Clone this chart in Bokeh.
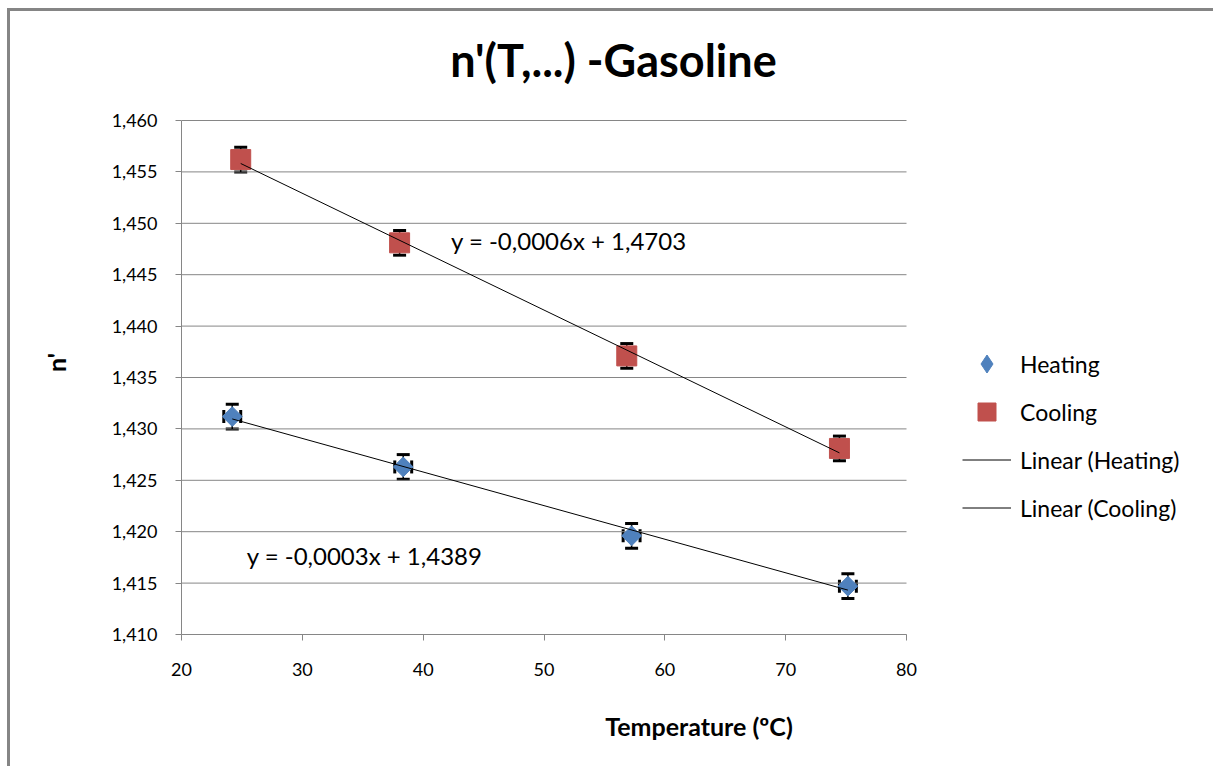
from bokeh.plotting import figure
from bokeh.models import (ColumnDataSource, Whisker, TeeHead, Legend, LegendItem,
                          FixedTicker, CustomJSTickFormatter, Label, Range1d)
from bokeh.embed import file_html
from bokeh.resources import INLINE
import numpy as np

# Refractive index of gasoline vs temperature
heat_t = [24.2, 38.35, 57.25, 75.15]
heat_n = [1.4312, 1.4263, 1.4196, 1.4147]
cool_t = [24.9, 38.05, 56.85, 74.45]
cool_n = [1.4562, 1.4481, 1.4371, 1.4281]
n_err = 0.0012
t_err = 0.7

x_ticks = [20, 30, 40, 50, 60, 70, 80]
y_ticks = [1.410, 1.415, 1.420, 1.425, 1.430, 1.435, 1.440, 1.445, 1.450, 1.455, 1.460]

title = "n'(T,...) -Gasoline"
eq_heat = "y = -0,0003x + 1,4389"
eq_cool = "y = -0,0006x + 1,4703"

FONT = "Lato"
GRID = "#868686"
BLUE = "#4F81BD"
RED = "#C0504D"

# canvas geometry (px): the axes occupy 725 x 514 px; the frame is widened to the
# right edge and raised to the top so the legend and heading can sit inside it
W, H = 1206, 758
LEFT = 171
AX_TOP, AX_BOTTOM = 109, 623
AX_W, AX_H = 725, AX_BOTTOM - AX_TOP
x0, x1 = x_ticks[0], x_ticks[-1]
y0, y1 = y_ticks[0], y_ticks[-1]
x_end = x0 + (x1 - x0) * (W - LEFT) / AX_W
y_end = y0 + (y1 - y0) * AX_BOTTOM / AX_H


def px_to_data(cx, cy):
    return (x0 + (cx - LEFT) * (x1 - x0) / AX_W,
            y0 + (AX_BOTTOM - cy) * (y1 - y0) / AX_H)


p = figure(width=W, height=H, output_backend="svg", toolbar_location=None,
           x_range=Range1d(x0, x_end), y_range=Range1d(y0, y_end),
           min_border_left=LEFT, min_border_right=0, min_border_top=0,
           min_border_bottom=H - AX_BOTTOM,
           styles={"margin-left": "7px", "margin-top": "8px",
                   "border-left": "3px solid #858585", "border-top": "3px solid #858585"})
p.outline_line_color = None
p.background_fill_color = "white"
p.border_fill_color = "white"

# horizontal gridlines limited to the temperature axis span
p.xgrid.grid_line_color = None
p.ygrid.grid_line_color = None
p.segment(x0=[x0] * len(y_ticks), y0=y_ticks, x1=[x1] * len(y_ticks), y1=y_ticks,
          line_color=GRID, line_width=1)

p.xaxis.ticker = FixedTicker(ticks=x_ticks)
p.xaxis.bounds = (x0, x1)
p.yaxis.ticker = FixedTicker(ticks=y_ticks)
p.yaxis.bounds = (y0, y1)
p.yaxis.formatter = CustomJSTickFormatter(code="return tick.toFixed(3).replace('.', ',');")
for ax in (p.xaxis, p.yaxis):
    ax.axis_line_color = GRID
    ax.major_tick_line_color = GRID
    ax.minor_tick_line_color = None
    ax.major_tick_in = 0
    ax.major_tick_out = 6
    ax.major_label_text_font = FONT
    ax.major_label_text_font_size = "18px"
    ax.major_label_text_color = "black"
    ax.axis_label_text_font = FONT
    ax.axis_label_text_font_size = "25px"
    ax.axis_label_text_font_style = "bold"
    ax.axis_label_text_color = "black"
p.xaxis.axis_label = "Temperature (ºC)"
# the frame reaches the top of the canvas, so pad the rotated label with
# no-break spaces to keep it centred on the n' scale
p.yaxis.axis_label = "n'" + "\u00a0" * 13
p.xaxis.major_label_standoff = 22
p.yaxis.major_label_standoff = 18
p.xaxis.axis_label_standoff = 32
p.yaxis.axis_label_standoff = 38

heat = ColumnDataSource(dict(t=heat_t, n=heat_n,
                             n_lo=[v - n_err for v in heat_n], n_hi=[v + n_err for v in heat_n],
                             t_lo=[v - t_err for v in heat_t], t_hi=[v + t_err for v in heat_t]))
cool = ColumnDataSource(dict(t=cool_t, n=cool_n,
                             n_lo=[v - n_err for v in cool_n], n_hi=[v + n_err for v in cool_n]))


# least-squares trend lines over the measured span
def trend(ts, ns):
    k, b = np.polyfit(ts, ns, 1)
    xs = [min(ts), max(ts)]
    return xs, [k * x + b for x in xs]


hx, hy = trend(heat_t, heat_n)
cx, cy = trend(cool_t, cool_n)

# error bar stems under the markers
p.segment("t", "n_lo", "t", "n_hi", source=heat, line_color="black", line_width=1.5)
p.segment("t_lo", "n", "t_hi", "n", source=heat, line_color="black", line_width=1.5)
p.segment("t", "n_lo", "t", "n_hi", source=cool, line_color="black", line_width=1.5)

# diamond swatch for the legend entry, tucked under the first heating marker
r_heat_key = p.scatter(x=heat_t[:1], y=heat_n[:1], marker="diamond", size=10,
                       fill_color=BLUE, line_color=BLUE)
p.scatter("t", "n", source=heat, marker="square", angle=np.pi / 4, size=14,
          fill_color=BLUE, line_color=BLUE)
r_cool = p.scatter("t", "n", source=cool, marker="square", size=20,
                   fill_color=RED, line_color=RED)
r_lh = p.line(hx, hy, line_color="black", line_width=1)
r_lc = p.line(cx, cy, line_color="black", line_width=1)

# error bar caps
for src in (heat, cool):
    p.add_layout(Whisker(source=src, base="t", lower="n_lo", upper="n_hi", dimension="height",
                         line_alpha=0,
                         upper_head=TeeHead(size=13, line_width=3, line_color="black"),
                         lower_head=TeeHead(size=13, line_width=3, line_color="black")))
p.add_layout(Whisker(source=heat, base="n", lower="t_lo", upper="t_hi", dimension="width",
                     line_alpha=0,
                     upper_head=TeeHead(size=13, line_width=3, line_color="black"),
                     lower_head=TeeHead(size=13, line_width=3, line_color="black")))

p.add_layout(Label(x=42.3, y=1.4483, text=eq_cool, text_font=FONT, text_font_size="24px",
                   text_baseline="middle", text_color="black"))
p.add_layout(Label(x=25.4, y=1.4177, text=eq_heat, text_font=FONT, text_font_size="24px",
                   text_baseline="middle", text_color="black"))

# heading
tx, ty = px_to_data(603, 48)
p.add_layout(Label(x=tx, y=ty, text=title, text_font=FONT, text_font_size="45px",
                   text_font_style="bold", text_align="center", text_baseline="middle",
                   text_color="black"))

legend = Legend(items=[LegendItem(label="Heating", renderers=[r_heat_key]),
                       LegendItem(label="Cooling", renderers=[r_cool]),
                       LegendItem(label="Linear (Heating)", renderers=[r_lh]),
                       LegendItem(label="Linear (Cooling)", renderers=[r_lc])],
                location=(781, 104), glyph_width=49, glyph_height=45, spacing=3,
                label_standoff=9, label_text_font=FONT, label_text_font_size="23px",
                label_text_color="black", padding=0, margin=0,
                border_line_color=None, background_fill_alpha=0)
p.add_layout(legend, "center")

open("out.html", "w").write(file_html(p, INLINE))
